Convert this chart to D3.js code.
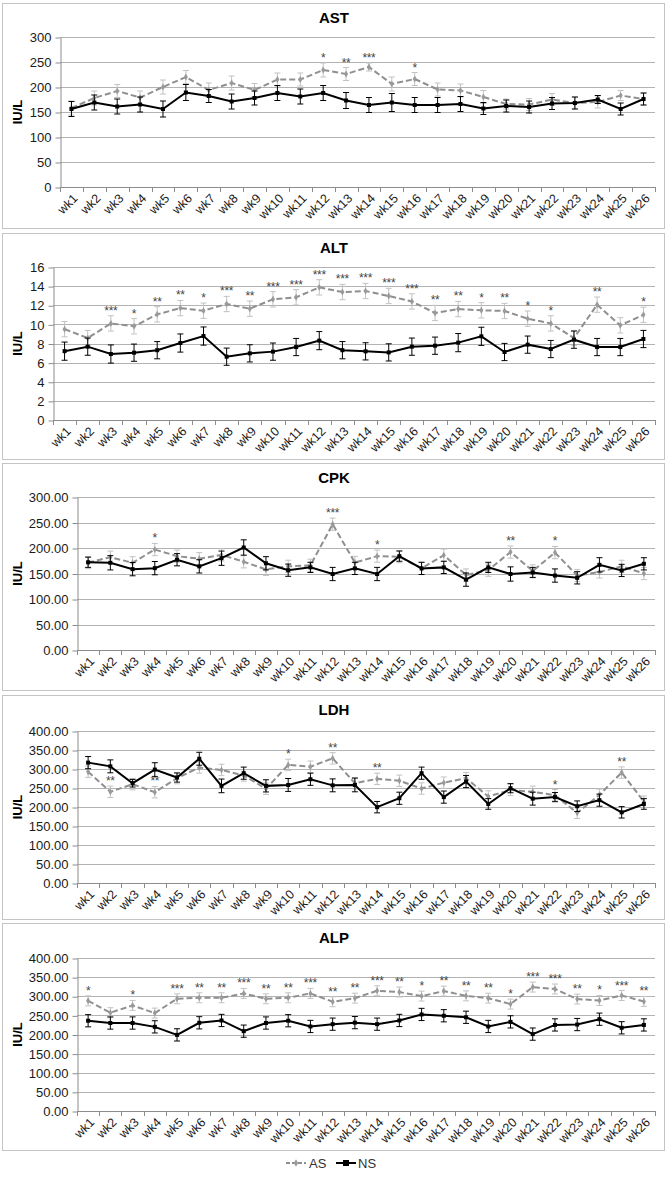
<!DOCTYPE html>
<html><head><meta charset="utf-8">
<script src="https://cdn.jsdelivr.net/npm/d3@7"></script>
<style>
body{margin:0;background:#fff}
svg{display:block}
text{font-family:"Liberation Sans",Arial,sans-serif}
</style>
</head><body>
<svg id="c" width="668" height="1178"></svg>
<script>
const weeks = ["wk1","wk2","wk3","wk4","wk5","wk6","wk7","wk8","wk9","wk10","wk11","wk12","wk13","wk14","wk15","wk16","wk17","wk18","wk19","wk20","wk21","wk22","wk23","wk24","wk25","wk26"];

// AST
const astAS = [158,178,192,179,200,220,194,208,194,215,215,234,226,240,206,216,195,193,180,166,165,175,168,170,183,176];
const astASerr = [14,14,13,13,14,13,14,14,13,13,13,14,13,8,14,13,13,13,13,10,12,12,12,12,10,12];
const astNS = [156,169,161,165,156,189,182,171,178,188,181,188,173,164,169,164,164,166,157,162,160,167,168,175,156,176];
const astNSerr = [15,15,15,15,16,16,13,15,14,15,15,15,16,15,18,15,15,15,12,12,12,12,12,8,12,12];
const astStars = ["","","","","","","","","","","","*","**","***","","*","","","","","","","","","",""];

// ALT
const altAS = [9.5,8.57,10.1,9.8,11.05,11.7,11.43,12.13,11.64,12.62,12.83,13.87,13.38,13.49,12.97,12.4,11.19,11.6,11.47,11.4,10.6,10.1,8.57,12.06,9.9,11.0];
const altASerr = [0.8,0.8,0.8,0.8,0.8,0.8,0.8,0.8,0.8,0.8,0.8,0.8,0.8,0.8,0.8,0.8,0.8,0.8,0.8,0.8,0.8,0.8,0.8,0.8,0.8,0.8];
const altNS = [7.2,7.67,6.9,7.04,7.3,8.05,8.78,6.62,6.97,7.15,7.63,8.3,7.3,7.18,7.07,7.67,7.77,8.09,8.75,7.11,7.88,7.42,8.4,7.63,7.63,8.47];
const altNSerr = [0.95,0.9,0.95,0.9,0.9,0.95,0.95,0.9,0.9,0.9,0.9,0.95,0.9,0.9,0.9,0.9,0.9,0.95,0.95,0.9,0.9,0.9,0.9,0.9,0.9,0.9];
const altStars = ["","","***","*","**","**","*","***","**","***","***","***","***","***","***","***","**","**","*","**","*","*","","**","","*"];

// CPK
const cpkAS = [171.5,182,171,197,184,179,186.5,173,158,164,166,246.6,171.5,184,183,160,186,147,156.5,192,155,191,146,153,164,150];
const cpkASerr = [12,12,12,12,12,12,12,12,12,12,12,12,12,12,12,12,12,12,12,12,12,12,12,12,12,12];
const cpkNS = [172,171,158.5,160.5,177,164,180,201,170,156.5,162,149,160,149,184,160,162,138,162,149,152,146,141.5,167,156,169];
const cpkNSerr = [10,14,13,13,12,13,14,15,13,12,10,13,12,13,10,12,12,13,10,14,10,13,12,14,12,12];
const cpkStars = ["","","","*","","","","","","","","***","","*","","","","","","**","","*","","","",""];

// LDH
const ldhAS = [293,240,260,239,276,304,297.5,283,248,310.7,306,328,262.6,274,269,248.6,264,276,227.6,245,240,231,184.7,232,290.6,214];
const ldhASerr = [15,15,15,15,15,15,15,15,15,15,15,15,15,15,15,15,15,15,15,15,15,15,15,15,15,15];
const ldhNS = [316.8,307,262.6,298.5,277.5,327,255.6,289,255.6,258,273,257,258,199.6,223,289,226,267,208,249.5,222,226,202,218,186,208];
const ldhNSerr = [16,17,10,18,12,17,18,16,16,17,16,17,18,15,16,16,16,16,14,12,17,12,14,16,15,14];
const ldhStars = ["","**","","**","","","","","","*","","**","","**","","","","","","","","*","","","**",""];

// ALP
const alpAS = [288,257,276,256,293.4,296,296,307.4,293.4,296,307.4,285.6,295,314.4,311,300.4,313.5,301,295,279.5,324,319,292.6,289,302,286.5];
const alpASerr = [13,13,13,13,13,13,13,13,13,13,13,13,13,13,13,13,13,13,13,13,13,13,13,13,13,13];
const alpNS = [236,230,230,220,199,230.6,236.7,208.7,230,236,221,227,231,227,236.7,252.4,249,245,221,233,201,225,226,240,217.5,225];
const alpNSerr = [16,16,16,16,16,16,16,16,16,16,16,16,16,16,16,16,16,16,16,16,16,16,16,16,16,16];
const alpStars = ["*","","*","","***","**","**","***","**","**","***","**","**","***","**","*","**","**","**","*","***","***","**","*","***","**"];

const astTicks = [0,50,100,150,200,250,300];
const altTicks = [0,2,4,6,8,10,12,14,16];
const bigTicks300 = [0,50,100,150,200,250,300];
const bigTicks400 = [0,50,100,150,200,250,300,350,400];

const panels = [
  {title:"AST", as:astAS, asErr:astASerr, ns:astNS, nsErr:astNSerr, stars:astStars, ticks:astTicks, fmt:d3.format("d"), top:3, bottom:228, pTop:37, pBot:187, ax:60},
  {title:"ALT", as:altAS, asErr:altASerr, ns:altNS, nsErr:altNSerr, stars:altStars, ticks:altTicks, fmt:d3.format("d"), top:233, bottom:459, pTop:267, pBot:420, ax:53},
  {title:"CPK", as:cpkAS, asErr:cpkASerr, ns:cpkNS, nsErr:cpkNSerr, stars:cpkStars, ticks:bigTicks300, fmt:d3.format(".2f"), top:463, bottom:690, pTop:497, pBot:650, ax:77},
  {title:"LDH", as:ldhAS, asErr:ldhASerr, ns:ldhNS, nsErr:ldhNSerr, stars:ldhStars, ticks:bigTicks400, fmt:d3.format(".2f"), top:695, bottom:919, pTop:731, pBot:883, ax:77},
  {title:"ALP", as:alpAS, asErr:alpASerr, ns:alpNS, nsErr:alpNSerr, stars:alpStars, ticks:bigTicks400, fmt:d3.format(".2f"), top:923, bottom:1150, pTop:958, pBot:1111, ax:77}
];

const svg = d3.select("#c");
const RIGHT = 655;

panels.forEach(p => {
  const g = svg.append("g");
  g.append("rect").attr("x",2.5).attr("y",p.top+0.5).attr("width",662).attr("height",p.bottom-p.top)
    .attr("fill","#fff").attr("stroke","#c4c4c4");

  const x = d3.scaleBand().domain(weeks).range([p.ax, RIGHT]);
  const y = d3.scaleLinear().domain([0, d3.max(p.ticks)]).range([p.pBot, p.pTop]);
  const bw = x.bandwidth();
  const cx = w => x(w) + bw/2;

  g.append("g").selectAll("line").data(p.ticks.filter(t=>t>0)).join("line")
    .attr("x1",p.ax).attr("x2",RIGHT).attr("y1",d=>Math.round(y(d))+0.5).attr("y2",d=>Math.round(y(d))+0.5)
    .attr("stroke","#b3b3b3").attr("stroke-width",1);

  const yAxis = d3.axisLeft(y).tickValues(p.ticks).tickFormat(p.fmt).tickSize(5).tickSizeOuter(0).tickPadding(4);
  const ya = g.append("g").attr("transform",`translate(${p.ax+0.5},0.5)`).call(yAxis);
  ya.select(".domain").attr("stroke","#8c8c8c");
  ya.selectAll(".tick line").attr("stroke","#8c8c8c");
  ya.selectAll(".tick text").attr("font-size",13).attr("fill","#1a1a1a")
    .attr("font-family","'Liberation Sans',Arial,sans-serif");

  g.append("line").attr("x1",p.ax).attr("x2",RIGHT+1).attr("y1",Math.round(p.pBot)+0.5).attr("y2",Math.round(p.pBot)+0.5)
    .attr("stroke","#8c8c8c");
  const bounds = weeks.map(w=>x(w)).concat([x(weeks[weeks.length-1])+bw]);
  g.append("g").selectAll("line").data(bounds).join("line")
    .attr("x1",d=>Math.round(d)+0.5).attr("x2",d=>Math.round(d)+0.5)
    .attr("y1",p.pBot).attr("y2",p.pBot+5).attr("stroke","#8c8c8c");

  g.append("g").selectAll("text").data(weeks).join("text")
    .attr("transform",w=>`translate(${cx(w)+4},${p.pBot+9}) rotate(-45)`)
    .attr("text-anchor","end").attr("dy","0.35em").attr("font-size",12.5).attr("fill","#1a1a1a")
    .text(w=>w);

  g.append("text").attr("x",334).attr("y",p.top+20).attr("text-anchor","middle")
    .attr("font-size",15).attr("font-weight","bold").attr("fill","#000").text(p.title);

  g.append("text").attr("transform",`translate(22,${(p.pTop+p.pBot)/2}) rotate(-90)`)
    .attr("text-anchor","middle").attr("font-size",13).attr("font-weight","bold").attr("fill","#000").text("IU/L");

  const asData = weeks.map((w,i)=>({w, v:p.as[i], e:p.asErr[i], s:p.stars[i]}));
  const nsData = weeks.map((w,i)=>({w, v:p.ns[i], e:p.nsErr[i]}));
  const line = d3.line().x(d=>cx(d.w)).y(d=>y(d.v));

  const ase = g.append("g").attr("stroke","#c2c2c2").attr("stroke-width",1);
  asData.forEach(d=>{
    ase.append("line").attr("x1",cx(d.w)).attr("x2",cx(d.w)).attr("y1",y(d.v-d.e)).attr("y2",y(d.v+d.e));
    ase.append("line").attr("x1",cx(d.w)-3).attr("x2",cx(d.w)+3).attr("y1",y(d.v+d.e)).attr("y2",y(d.v+d.e));
    ase.append("line").attr("x1",cx(d.w)-3).attr("x2",cx(d.w)+3).attr("y1",y(d.v-d.e)).attr("y2",y(d.v-d.e));
  });
  g.append("path").datum(asData).attr("d",line).attr("fill","none").attr("stroke","#8f8f8f")
    .attr("stroke-width",2).attr("stroke-dasharray","6,3");
  g.append("g").selectAll("path").data(asData).join("path")
    .attr("d",d3.symbol(d3.symbolDiamond,14)).attr("transform",d=>`translate(${cx(d.w)},${y(d.v)})`)
    .attr("fill","#9a9a9a");

  const nse = g.append("g").attr("stroke","#000").attr("stroke-width",1);
  nsData.forEach(d=>{
    nse.append("line").attr("x1",cx(d.w)).attr("x2",cx(d.w)).attr("y1",y(d.v-d.e)).attr("y2",y(d.v+d.e));
    nse.append("line").attr("x1",cx(d.w)-3).attr("x2",cx(d.w)+3).attr("y1",y(d.v+d.e)).attr("y2",y(d.v+d.e));
    nse.append("line").attr("x1",cx(d.w)-3).attr("x2",cx(d.w)+3).attr("y1",y(d.v-d.e)).attr("y2",y(d.v-d.e));
  });
  g.append("path").datum(nsData).attr("d",line).attr("fill","none").attr("stroke","#000").attr("stroke-width",2);
  g.append("g").selectAll("rect").data(nsData).join("rect")
    .attr("x",d=>cx(d.w)-2).attr("y",d=>y(d.v)-2).attr("width",4).attr("height",4).attr("fill","#000");

  g.append("g").selectAll("text").data(asData.filter(d=>d.s)).join("text")
    .attr("x",d=>cx(d.w)).attr("y",d=>y(d.v+d.e)-1).attr("text-anchor","middle")
    .attr("font-size",12).attr("fill","#444").attr("letter-spacing","-0.3").text(d=>d.s);
});

const lg = svg.append("g").attr("transform","translate(0,1163)");
lg.append("line").attr("x1",286).attr("x2",306).attr("y1",0).attr("y2",0).attr("stroke","#8f8f8f").attr("stroke-width",2).attr("stroke-dasharray","4,2");
lg.append("path").attr("d",d3.symbol(d3.symbolDiamond,16)).attr("transform","translate(296,0)").attr("fill","#9a9a9a");
lg.append("text").attr("x",309).attr("y",0).attr("dy","0.35em").attr("font-size",13).attr("fill","#333")
  .attr("font-family","'Open Sans',sans-serif").text("AS");
lg.append("line").attr("x1",336).attr("x2",356).attr("y1",0).attr("y2",0).attr("stroke","#000").attr("stroke-width",2);
lg.append("rect").attr("x",343).attr("y",-3).attr("width",6).attr("height",6).attr("fill","#000");
lg.append("text").attr("x",358).attr("y",0).attr("dy","0.35em").attr("font-size",13).attr("fill","#333")
  .attr("font-family","'Open Sans',sans-serif").text("NS");
</script>
</body></html>
